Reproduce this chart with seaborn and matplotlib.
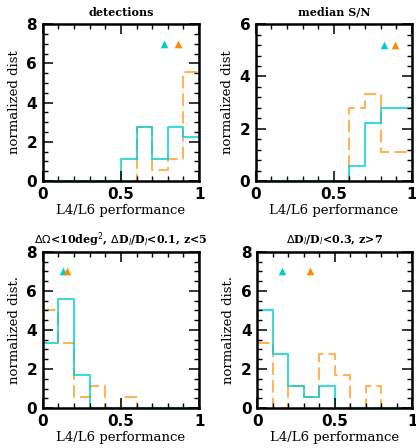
import numpy as np
import pandas as pd
import matplotlib
matplotlib.use("Agg")
import matplotlib.pyplot as plt
import seaborn as sns
from matplotlib.ticker import MultipleLocator, FixedLocator

# ---- data ----
edges = [0.0, 0.1, 0.2, 0.3, 0.4, 0.5, 0.6, 0.7, 0.8, 0.9, 1.0]
titles = ["detections", "median S/N",
          r"$\Delta\Omega$<10deg$^2$, $\Delta$D$_l$/D$_l$<0.1, z<5",
          r"$\Delta$D$_l$/D$_l$<0.3, z>7"]
ylabels = ["normalized dist", "normalized dist", "normalized dist.", "normalized dist."]
cyan_det = [0, 0, 0, 0, 0, 1.11, 2.78, 1.11, 2.78, 2.22]
orange_det = [0, 0, 0, 0, 0, 0, 2.78, 0.56, 1.11, 5.56]
cyan_snr = [0, 0, 0, 0, 0, 0, 0.56, 2.22, 2.78, 2.78]
orange_snr = [0, 0, 0, 0, 0, 0, 2.78, 3.33, 1.11, 1.11]
cyan_sky = [3.33, 5.56, 1.67, 0, 0, 0, 0, 0, 0, 0]
orange_sky = [5.0, 3.33, 0.56, 1.11, 0, 0.56, 0, 0, 0, 0]
cyan_hiz = [5.0, 2.78, 1.11, 0.56, 1.11, 0, 0, 0, 0, 0]
orange_hiz = [3.33, 0, 1.11, 0.56, 2.78, 1.67, 0, 1.11, 0, 0]
cyan_med = [0.776, 0.82, 0.13, 0.16]
orange_med = [0.864, 0.89, 0.157, 0.34]
marker_y = [7.0, 5.2, 7.0, 7.0]
ymax = [8, 6, 8, 8]
yminor = [0.5, 0.4, 0.5, 0.5]

cyan_sets = [cyan_det, cyan_snr, cyan_sky, cyan_hiz]
orange_sets = [orange_det, orange_snr, orange_sky, orange_hiz]

CYAN = "#00CCCC"
ORANGE = "#FF8C00"

plt.rcParams["axes.axisbelow"] = False
for a in ("xtick", "ytick"):
    plt.rcParams[f"{a}.direction"] = "in"
    plt.rcParams[f"{a}.color"] = "black"
    plt.rcParams[f"{a}.major.size"] = 7
    plt.rcParams[f"{a}.minor.size"] = 3.5
    plt.rcParams[f"{a}.major.width"] = 1.1
    plt.rcParams[f"{a}.minor.width"] = 1.0
plt.rcParams["xtick.top"] = True
plt.rcParams["ytick.right"] = True

fig = plt.figure(figsize=(4.16, 4.48), dpi=100)
positions = [
    [0.1026, 0.596, 0.376, 0.350],
    [0.615, 0.596, 0.375, 0.350],
    [0.1026, 0.089, 0.376, 0.349],
    [0.618, 0.089, 0.373, 0.349],
]
centers = [(edges[i] + edges[i + 1]) / 2 for i in range(len(edges) - 1)]

axes = []
for k in range(4):
    ax = fig.add_axes(positions[k])
    axes.append(ax)
    df = pd.DataFrame({"x": centers, "cyan": cyan_sets[k], "orange": orange_sets[k]})
    sns.histplot(data=df, x="x", weights="orange", bins=edges, element="step",
                 fill=False, color=ORANGE, alpha=0.65, linewidth=1.5,
                 dashes=(6, 2.5), ax=ax)
    sns.histplot(data=df, x="x", weights="cyan", bins=edges, element="step",
                 fill=False, color=CYAN, alpha=0.75, linewidth=1.5, ax=ax)
    sns.scatterplot(x=[cyan_med[k]], y=[marker_y[k]], color=CYAN,
                    marker="^", s=30, linewidth=0, ax=ax, zorder=5)
    sns.scatterplot(x=[orange_med[k]], y=[marker_y[k]], color=ORANGE,
                    marker="^", s=30, linewidth=0, ax=ax, zorder=5)
    ax.set_xlim(0, 1)
    ax.set_ylim(0, ymax[k])
    ax.xaxis.set_major_locator(FixedLocator([0, 0.5, 1]))
    ax.xaxis.set_minor_locator(MultipleLocator(0.1))
    ax.yaxis.set_major_locator(MultipleLocator(2))
    ax.yaxis.set_minor_locator(MultipleLocator(yminor[k]))
    ax.set_xticklabels(["0", "0.5", "1"])
    for sp in ax.spines.values():
        sp.set_linewidth(1.8)
        sp.set_visible(True)
    ax.set_xlabel("L4/L6 performance", family="DejaVu Serif", fontsize=9.5, labelpad=2)
    ax.set_ylabel(ylabels[k], family="DejaVu Serif", fontsize=9.5, labelpad=4)
    ax.set_title(titles[k], family="DejaVu Serif", fontsize=8, fontweight="bold", pad=6)

for ax in axes:
    ax.set_axisbelow(False)
    ax.xaxis.set_zorder(4)
    ax.yaxis.set_zorder(4)
    ax.tick_params(which="both", direction="in", colors="black",
                   top=True, bottom=True, left=True, right=True)
    ax.tick_params(which="major", length=7, width=1.1, labelsize=11, pad=4)
    ax.tick_params(which="minor", length=3.5, width=1.0)
    for axis in (ax.xaxis, ax.yaxis):
        for t in axis.get_major_ticks() + axis.get_minor_ticks():
            t.tick1line.set_visible(True)
            t.tick2line.set_visible(True)
    for lab in ax.get_xticklabels() + ax.get_yticklabels():
        lab.set_fontweight("bold")

fig.savefig("out.png", dpi=100)
